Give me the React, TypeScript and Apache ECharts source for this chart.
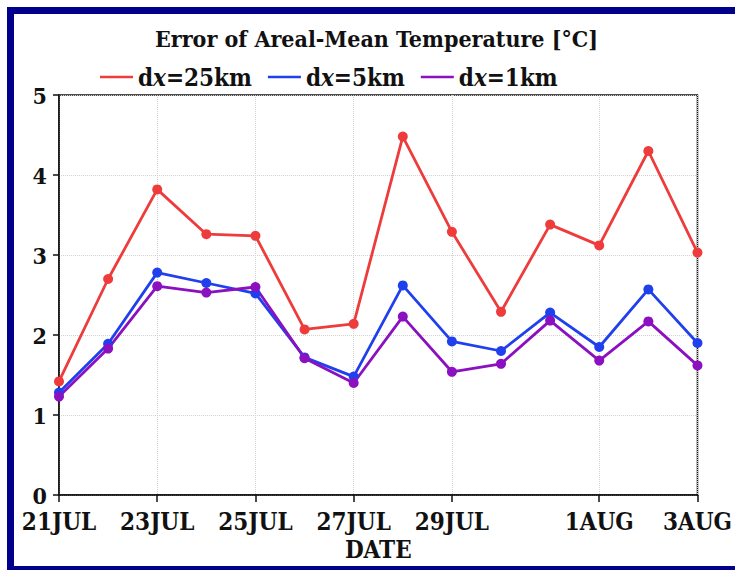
import React, { useEffect, useRef } from "react";
import * as echarts from "echarts";

// Daily dates along the x axis
const dates = [
  "21JUL", "22JUL", "23JUL", "24JUL", "25JUL", "26JUL", "27JUL",
  "28JUL", "29JUL", "30JUL", "31JUL", "1AUG", "2AUG", "3AUG",
];
// Dates that carry a tick label
const tickLabels = ["21JUL", "23JUL", "25JUL", "27JUL", "29JUL", "1AUG", "3AUG"];

// Error of areal-mean temperature [°C] per grid spacing
const dx25 = [1.42, 2.7, 3.82, 3.26, 3.24, 2.07, 2.14, 4.48, 3.29, 2.29, 3.38, 3.12, 4.3, 3.03];
const dx5 = [1.28, 1.89, 2.78, 2.65, 2.52, 1.72, 1.48, 2.62, 1.92, 1.8, 2.28, 1.85, 2.57, 1.9];
const dx1 = [1.23, 1.83, 2.61, 2.53, 2.6, 1.71, 1.4, 2.23, 1.54, 1.64, 2.18, 1.68, 2.17, 1.62];

const seriesNames = ["dx=25km", "dx=5km", "dx=1km"];
const colors = ["#ee3c3c", "#2040ee", "#8a10c0"];

const FONT = "'DejaVu Serif Condensed', 'DejaVu Serif', serif";

export default function App() {
  const ref = useRef<HTMLDivElement>(null);

  useEffect(() => {
    document.body.style.margin = "0";
    if (!ref.current) return;
    const chart = echarts.init(ref.current, undefined, { renderer: "svg" });
    const showTick = (_i: number, v: string) => tickLabels.includes(v);
    const mkSeries = (name: string, data: number[], color: string) => ({
      name,
      type: "line",
      data,
      symbol: "circle",
      symbolSize: 10,
      lineStyle: { width: 2.8, color },
      itemStyle: { color },
      z: 3,
    });

    chart.setOption({
      animation: false,
      backgroundColor: "#ffffff",
      textStyle: { fontFamily: FONT },
      title: {
        text: "Error of Areal-Mean Temperature [°C]",
        left: 150,
        top: 22,
        textStyle: {
          fontFamily: FONT,
          fontSize: 23,
          fontWeight: "bold",
          color: "#111",
        },
      },
      legend: {
        top: 60,
        left: 95,
        icon: "rect",
        itemWidth: 33,
        itemHeight: 2.5,
        itemGap: 16,
        data: seriesNames,
        formatter: (n: string) => n.replace("x", "{i|x}"),
        textStyle: {
          fontFamily: FONT,
          fontSize: 24,
          fontWeight: "bold",
          color: "#111",
          rich: {
            i: {
              fontFamily: FONT,
              fontSize: 24,
              fontWeight: "bold",
              fontStyle: "italic",
              color: "#111",
            },
          },
        },
      },
      grid: {
        left: 59,
        right: 37,
        top: 95,
        bottom: 75,
        show: true,
        borderColor: "#111",
        borderWidth: 1.5,
        backgroundColor: "transparent",
      },
      xAxis: {
        type: "category",
        data: dates,
        boundaryGap: false,
        name: "DATE",
        nameLocation: "middle",
        nameGap: 39,
        nameTextStyle: {
          fontFamily: FONT,
          fontSize: 24,
          fontWeight: "bold",
          color: "#111",
        },
        axisLine: { lineStyle: { color: "#111", width: 1.5 } },
        axisTick: { interval: showTick, length: 7, lineStyle: { color: "#111", width: 1.5 } },
        axisLabel: {
          interval: showTick,
          margin: 14,
          fontFamily: FONT,
          fontSize: 24,
          fontWeight: "bold",
          color: "#111",
        },
        splitLine: {
          show: true,
          interval: showTick,
          lineStyle: { color: "#d2d2d2", type: "dotted", width: 1 },
        },
      },
      yAxis: {
        type: "value",
        min: 0,
        max: 5,
        interval: 1,
        axisLine: { show: true, lineStyle: { color: "#111", width: 1.5 } },
        axisTick: { show: true, length: 6, lineStyle: { color: "#111", width: 1.5 } },
        axisLabel: {
          margin: 12,
          fontFamily: FONT,
          fontSize: 23,
          fontWeight: "bold",
          color: "#111",
        },
        splitLine: {
          show: true,
          lineStyle: { color: "#d2d2d2", type: "dotted", width: 1 },
        },
      },
      series: [
        mkSeries(seriesNames[0], dx25, colors[0]),
        mkSeries(seriesNames[1], dx5, colors[1]),
        mkSeries(seriesNames[2], dx1, colors[2]),
      ],
      color: colors,
      graphic: [
        {
          type: "rect",
          silent: true,
          z: 100,
          shape: { x: 10.5, y: 10.5, width: 740, height: 559 },
          style: { fill: "none", stroke: "#00008b", lineWidth: 7 },
        },
      ],
    });

    return () => chart.dispose();
  }, []);

  return <div ref={ref} style={{ width: 735, height: 570 }} />;
}
